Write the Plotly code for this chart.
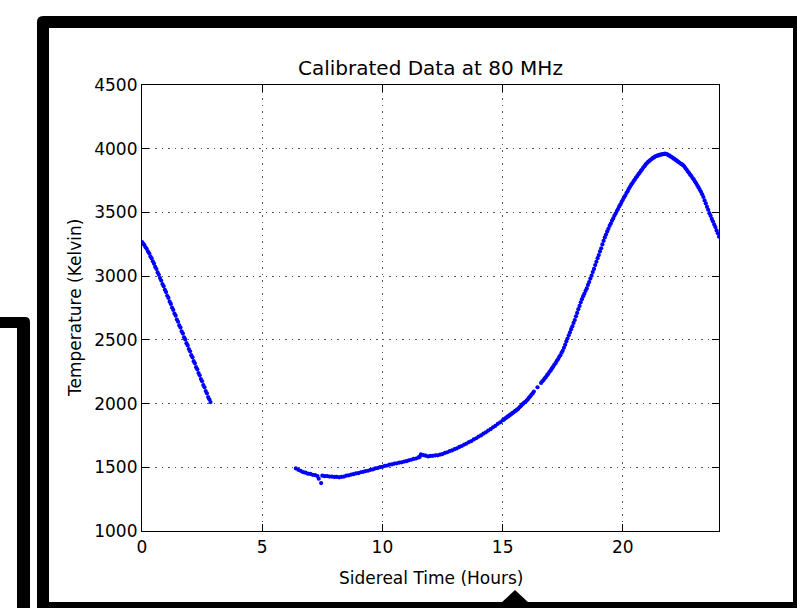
import plotly.graph_objects as go

# ---------------- data ----------------
seg1_hours = [0.00, 0.05, 0.10, 0.15, 0.20, 0.25, 0.30, 0.35, 0.40, 0.45,
              0.50, 0.55, 0.60, 0.65, 0.70, 0.75, 0.80, 0.85, 0.90, 0.95,
              1.00, 1.05, 1.10, 1.15, 1.20, 1.25, 1.30, 1.35, 1.40, 1.45,
              1.50, 1.55, 1.60, 1.65, 1.70, 1.75, 1.80, 1.85, 1.90, 1.95,
              2.00, 2.05, 2.10, 2.15, 2.20, 2.25, 2.30, 2.35, 2.40, 2.45,
              2.50, 2.55, 2.60, 2.65, 2.70, 2.75, 2.80, 2.85]
seg1_temp = [3268, 3255, 3244, 3226, 3213, 3193, 3179, 3155, 3140, 3116,
             3098, 3072, 3056, 3029, 3011, 2985, 2966, 2938, 2921, 2893,
             2875, 2846, 2829, 2800, 2782, 2753, 2735, 2706, 2690, 2659,
             2642, 2613, 2596, 2566, 2549, 2520, 2503, 2474, 2456, 2428,
             2410, 2380, 2363, 2333, 2316, 2286, 2269, 2240, 2222, 2192,
             2175, 2145, 2128, 2098, 2081, 2051, 2034, 2012]

seg2_hours = [6.40, 6.50, 6.60, 6.70, 6.80, 6.90, 7.00, 7.10, 7.20, 7.30,
              7.35, 7.45, 7.50, 7.60, 7.70, 7.80, 7.90, 8.00, 8.10, 8.20,
              8.30, 8.40, 8.50, 8.60, 8.70, 8.80, 8.90, 9.00, 9.10, 9.20,
              9.30, 9.40, 9.50, 9.60, 9.70, 9.80, 9.90, 10.00, 10.10, 10.20,
              10.30, 10.40, 10.50, 10.60, 10.70, 10.80, 10.90, 11.00, 11.10, 11.20,
              11.30, 11.40, 11.50, 11.55, 11.60, 11.70, 11.80, 11.90, 12.00, 12.10,
              12.20, 12.30, 12.40, 12.50, 12.60, 12.70, 12.80, 12.90, 13.00, 13.10,
              13.20, 13.30, 13.40, 13.50, 13.60, 13.70, 13.80, 13.90, 14.00, 14.10,
              14.20, 14.30, 14.40, 14.50, 14.60, 14.70, 14.80, 14.90, 15.00,
              15.05, 15.10, 15.15, 15.20, 15.25, 15.30, 15.35, 15.40, 15.45, 15.50,
              15.55, 15.60, 15.65, 15.70, 15.75, 15.80, 15.85, 15.90, 15.95, 16.00,
              16.05, 16.10, 16.15, 16.20, 16.25, 16.30, 16.45, 16.60, 16.65, 16.70,
              16.75, 16.80, 16.85, 16.90, 16.95, 17.00, 17.05, 17.10, 17.15, 17.20,
              17.25, 17.30, 17.35, 17.40, 17.45, 17.50, 17.55, 17.60, 17.65, 17.70,
              17.75, 17.80, 17.85, 17.90, 17.95, 18.00, 18.05, 18.10, 18.15, 18.20,
              18.25, 18.30, 18.35, 18.40, 18.45, 18.50, 18.55, 18.60, 18.65, 18.70,
              18.75, 18.80, 18.85, 18.90, 18.95, 19.00, 19.05, 19.10, 19.15, 19.20,
              19.25, 19.30, 19.35, 19.40, 19.45, 19.50, 19.55, 19.60, 19.65, 19.70,
              19.75, 19.80, 19.85, 19.90, 19.95, 20.00, 20.05, 20.10, 20.15, 20.20,
              20.25, 20.30, 20.35, 20.40, 20.45, 20.50, 20.55, 20.60, 20.65, 20.70,
              20.75, 20.80, 20.85, 20.90, 20.95, 21.00, 21.05, 21.10, 21.15, 21.20,
              21.25, 21.30, 21.35, 21.40, 21.45, 21.50, 21.55, 21.60, 21.65, 21.70,
              21.75, 21.80, 21.85, 21.90, 21.95, 22.00, 22.05, 22.10, 22.15, 22.20,
              22.25, 22.30, 22.35, 22.40, 22.45, 22.50, 22.55, 22.60, 22.65, 22.70,
              22.75, 22.80, 22.85, 22.90, 22.95, 23.00, 23.05, 23.10, 23.15, 23.20,
              23.25, 23.30, 23.35, 23.40, 23.45, 23.50, 23.55, 23.60, 23.65, 23.70,
              23.75, 23.80, 23.85, 23.90, 23.95, 24.00]
seg2_temp = [1491, 1480, 1472, 1462, 1458, 1450, 1448, 1441, 1438, 1431,
             1410, 1376, 1434, 1430, 1431, 1427, 1427, 1424, 1424, 1421,
             1425, 1427, 1434, 1437, 1443, 1446, 1452, 1454, 1461, 1464,
             1470, 1473, 1480, 1483, 1491, 1494, 1501, 1504, 1511, 1514,
             1521, 1523, 1529, 1531, 1537, 1539, 1545, 1548, 1555, 1559,
             1566, 1569, 1577, 1581, 1601, 1595, 1591, 1585, 1589, 1590,
             1594, 1594, 1600, 1604, 1613, 1618, 1627, 1632, 1642, 1649,
             1660, 1667, 1678, 1686, 1698, 1706, 1719, 1728, 1741, 1750,
             1764, 1774, 1788, 1799, 1814, 1825, 1841, 1853, 1869,
             1874, 1883, 1888, 1897, 1902, 1911, 1916, 1925, 1930, 1939,
             1944, 1953, 1959, 1971, 1979, 1991, 1998, 2008, 2014, 2024,
             2033, 2047, 2057, 2071, 2080, 2094, 2128, 2162, 2175, 2184,
             2198, 2208, 2223, 2234, 2249, 2260, 2276, 2288, 2304, 2317,
             2334, 2347, 2365, 2379, 2399, 2414, 2438, 2461, 2488, 2510,
             2536, 2558, 2584, 2606, 2633, 2656, 2685, 2711, 2741, 2766,
             2795, 2819, 2843, 2862, 2885, 2904, 2931, 2954, 2981, 3004,
             3032, 3057, 3087, 3113, 3141, 3165, 3194, 3219, 3249, 3277,
             3304, 3326, 3351, 3371, 3395, 3413, 3435, 3453, 3474, 3491,
             3511, 3527, 3547, 3563, 3583, 3599, 3618, 3633, 3652, 3667,
             3686, 3701, 3718, 3730, 3746, 3758, 3774, 3785, 3800, 3811,
             3826, 3837, 3852, 3863, 3877, 3886, 3897, 3903, 3913, 3919,
             3928, 3932, 3940, 3942, 3947, 3948, 3953, 3954, 3958, 3958,
             3961, 3957, 3955, 3948, 3945, 3937, 3933, 3924, 3920, 3911,
             3906, 3897, 3892, 3883, 3879, 3871, 3862, 3848, 3837, 3822,
             3811, 3796, 3785, 3770, 3759, 3742, 3729, 3711, 3696, 3677,
             3662, 3642, 3621, 3594, 3571, 3544, 3521, 3494, 3473, 3449,
             3429, 3405, 3385, 3359, 3336, 3309]

x_ticks = [0, 5, 10, 15, 20]
y_ticks = [1000, 1500, 2000, 2500, 3000, 3500, 4000, 4500]

title_text = "Calibrated Data at 80 MHz"
x_title = "Sidereal Time (Hours)"
y_title = "Temperature (Kelvin)"

# ---------------- layout geometry ----------------
W, H = 797, 608
L, R, T, B = 142, 719, 85, 531   # plot-area edges in pixels


def px(x):
    return (x - L) / (R - L)


def py(y):
    return (B - y) / (B - T)


FONT = "DejaVu Sans"
marker = dict(color="#0000ff", size=4.2, line=dict(width=0))

fig = go.Figure()
fig.add_trace(go.Scatter(x=seg1_hours, y=seg1_temp, mode="markers",
                         marker=marker, showlegend=False, hoverinfo="skip"))
fig.add_trace(go.Scatter(x=seg2_hours, y=seg2_temp, mode="markers",
                         marker=marker, showlegend=False, hoverinfo="skip"))

axis_common = dict(
    showline=True, linecolor="#000000", linewidth=1.2, mirror="ticks",
    ticks="inside", ticklen=7, tickwidth=1, tickcolor="#000000",
    showgrid=True, gridcolor="#555555", gridwidth=1, griddash="1.5px,5px",
    zeroline=False, tickfont=dict(family=FONT, size=17, color="#000000"),
    fixedrange=True,
)

fig.update_layout(
    width=W, height=H,
    margin=dict(l=L, r=W - R, t=T, b=H - B, pad=0),
    paper_bgcolor="white", plot_bgcolor="white",
    font=dict(family=FONT, color="#000000"),
    xaxis=dict(range=[0, 24], tickvals=x_ticks, **axis_common),
    yaxis=dict(range=[1000, 4500], tickvals=y_ticks, **axis_common),
)

# titles as annotations (precise placement)
fig.add_annotation(text=title_text, xref="paper", yref="paper",
                   x=0.5, y=py(68), xanchor="center", yanchor="middle",
                   showarrow=False, font=dict(family=FONT, size=20, color="#000000"))
fig.add_annotation(text=x_title, xref="paper", yref="paper",
                   x=0.5, y=py(578), xanchor="center", yanchor="middle",
                   showarrow=False, font=dict(family=FONT, size=17, color="#000000"))
fig.add_annotation(text=y_title, xref="paper", yref="paper",
                   x=px(75), y=0.5, xanchor="center", yanchor="middle",
                   textangle=-90, showarrow=False,
                   font=dict(family=FONT, size=17, color="#000000"))


# ---------------- decorative black frames of the screenshot ----------------
def path(points_cmds):
    out = []
    for cmd, pts in points_cmds:
        if cmd == "Z":
            out.append("Z")
            continue
        coords = " ".join(f"{px(a):.5f},{py(b):.5f}" for a, b in pts)
        out.append(f"{cmd} {coords}")
    return " ".join(out)


big_frame = path([
    ("M", [(37, 615)]), ("L", [(37, 22)]), ("Q", [(37, 16), (43, 16)]),
    ("L", [(805, 16)]), ("L", [(805, 615)]), ("Z", None),
    ("M", [(49, 28)]), ("L", [(793, 28)]), ("L", [(793, 602)]),
    ("L", [(49, 602)]), ("Z", None),
])
left_frame = path([
    ("M", [(-5, 317)]), ("L", [(25, 317)]), ("Q", [(30, 317), (30, 322)]),
    ("L", [(30, 615)]), ("L", [(17, 615)]), ("L", [(17, 328)]),
    ("L", [(-5, 328)]), ("Z", None),
])
triangle = path([
    ("M", [(501, 603)]), ("L", [(515, 590)]), ("L", [(529, 603)]), ("Z", None),
])

for p in (big_frame, left_frame, triangle):
    fig.add_shape(type="path", path=p, xref="paper", yref="paper",
                  fillcolor="#000000", fillrule="evenodd",
                  line=dict(width=0), layer="above")

fig.write_html("out.html")
